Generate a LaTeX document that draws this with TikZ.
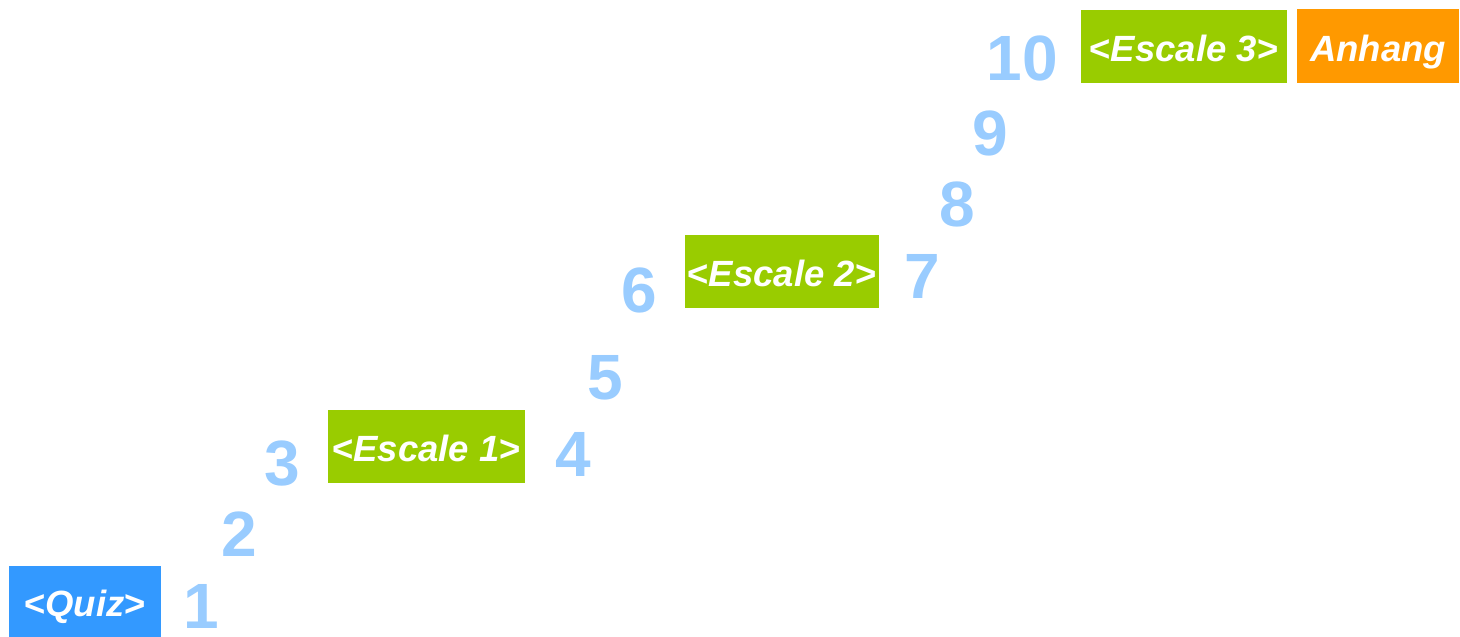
\documentclass[tikz,border=0pt]{standalone}
\usepackage{fontspec}
\setmainfont{Liberation Sans}
\definecolor{numblue}{HTML}{99CCFF}
\definecolor{boxgreen}{HTML}{99CC00}
\definecolor{boxblue}{HTML}{3399FF}
\definecolor{boxorange}{HTML}{FF9900}
\begin{document}
\begin{tikzpicture}[x=1pt,y=-1pt,
  num/.style={inner sep=0pt, text=numblue, font=\fontsize{64}{64}\selectfont\bfseries},
  tag/.style={inner sep=0pt, text=white, font=\fontsize{36.5}{36.5}\selectfont\bfseries, text height=30pt, text depth=0pt},
  greenbox/.style={tag, fill=boxgreen},
  bluebox/.style={tag, fill=boxblue},
  orangebox/.style={tag, fill=boxorange}]
\useasboundingbox (0,0) rectangle (1460,637);
% boxes
\node[bluebox, minimum width=152pt, minimum height=71pt] (quiz) at (85,601.5) {<\textit{Quiz}>};
\node[greenbox, minimum width=197pt, minimum height=73pt] (esc1) at (426.5,446.5) {<\textit{Escale 1}>};
\node[greenbox, minimum width=194pt, minimum height=73pt] (esc2) at (782,271.5) {<\textit{Escale 2}>};
\node[greenbox, minimum width=206pt, minimum height=73pt] (esc3) at (1184,46.5) {<\textit{Escale 3}>};
\node[orangebox, minimum width=162pt, minimum height=74pt] (anh) at (1378,46) {\textit{Anhang}};
% numbers
\node[num] (n1) at (201,606) {1};
\node[num] (n2) at (239.5,534.5) {2};
\node[num] (n3) at (282,463.5) {3};
\node[num] (n4) at (573,454) {4};
\node[num] (n5) at (605,377.5) {5};
\node[num] (n6) at (639,290) {6};
\node[num] (n7) at (922,276) {7};
\node[num] (n8) at (957,204) {8};
\node[num] (n9) at (990,133.5) {9};
\node[num] (n10) at (1022,58.5) {10};
\end{tikzpicture}
\end{document}
